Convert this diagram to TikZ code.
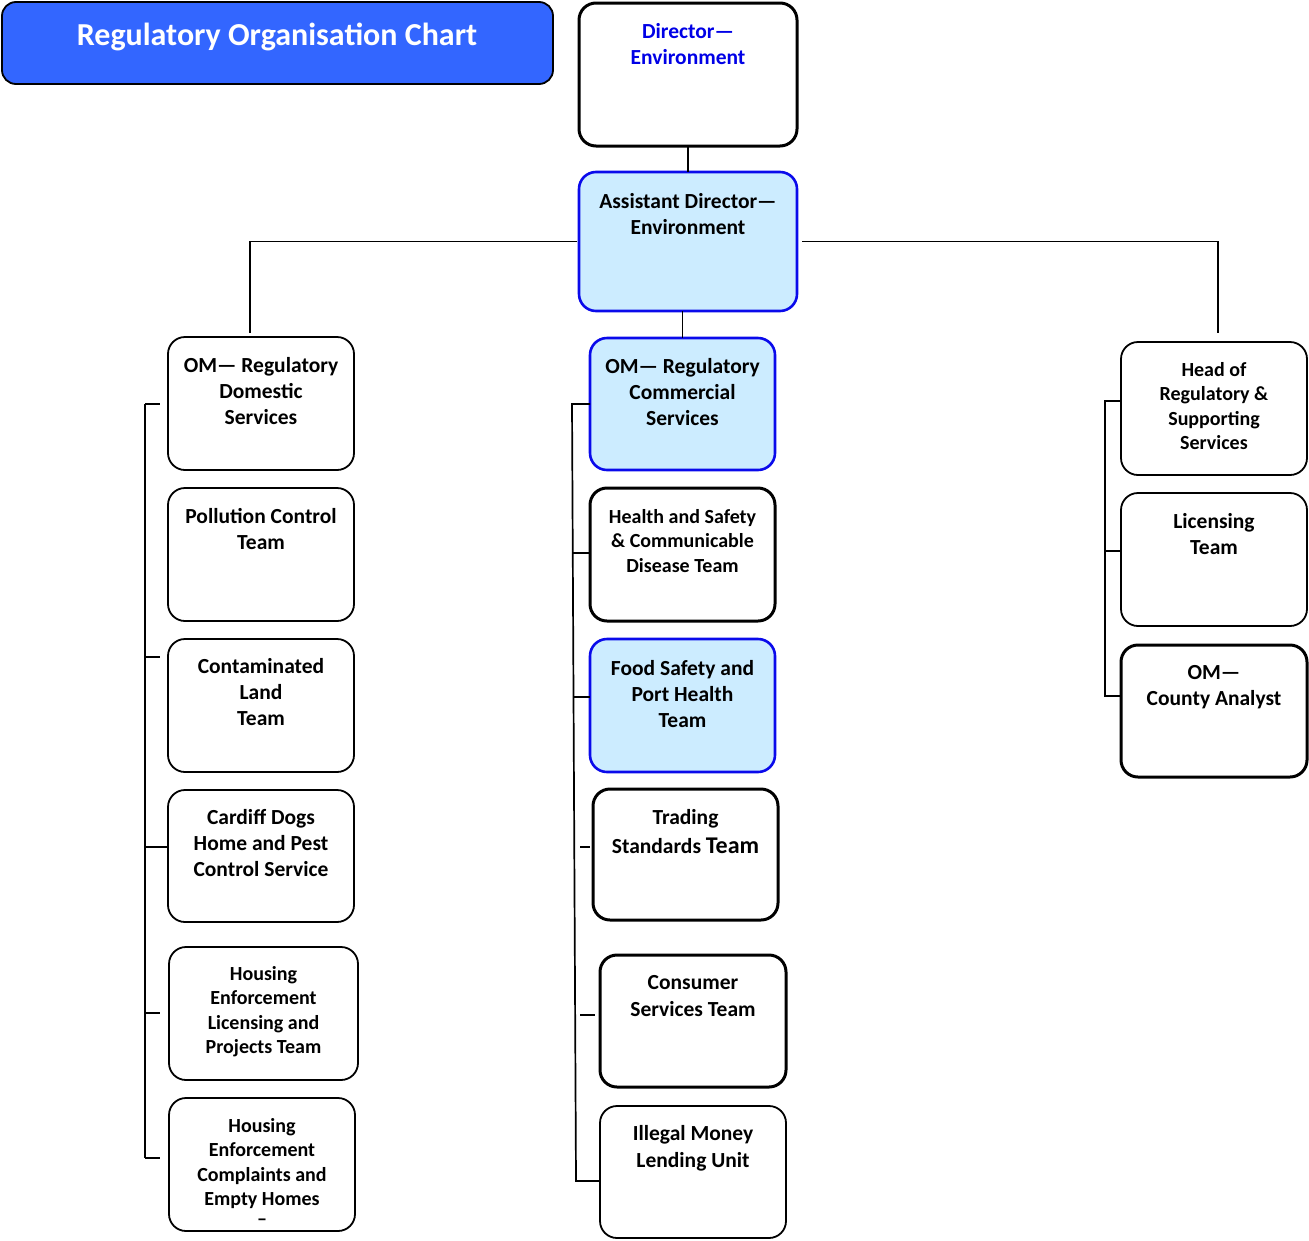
\documentclass[tikz,border=0pt]{standalone}
\usepackage{fontspec}
\setmainfont{Carlito}
\usetikzlibrary{positioning}
\definecolor{titleblue}{RGB}{51,102,255}
\definecolor{paleblue}{RGB}{204,236,255}
\definecolor{edgeblue}{RGB}{10,10,235}
\definecolor{darkblue}{RGB}{0,0,230}

\begin{document}
\begin{tikzpicture}[x=1pt,y=-1pt,
  box/.style={draw=black, line width=1.8pt, rounded corners=17pt, anchor=north west, inner sep=0pt, outer sep=0pt},
  thickbox/.style={box, line width=3pt},
  bluebox/.style={box, draw=edgeblue, fill=paleblue, line width=2.6pt},
  txt/.style={anchor=north, align=center, inner sep=0pt, font=\bfseries\fontsize{21.5}{26}\selectfont},
  smalltxt/.style={txt, font=\bfseries\fontsize{20}{24.5}\selectfont},
  link/.style={line width=1.7pt}]
	\useasboundingbox (0,0) rectangle (1309,1240);

	%Title
	\node[box, draw=black, fill=titleblue, line width=1.8pt, rounded corners=14pt, minimum width=551pt, minimum height=82pt] (title) at (2,2) {};
	\node[anchor=base, inner sep=0pt, text=white, font=\bfseries\fontsize{32}{36}\selectfont] (title-t) at (277,45) {Regulatory Organisation Chart};

	%Top of the chart
	\node[thickbox, minimum width=218pt, minimum height=143pt] (dir) at (579,3) {};
	\node[txt, text=darkblue, below=20pt of dir.north] (dir-t) {Director—\\Environment};
	\node[bluebox, minimum width=218pt, minimum height=139pt] (ad) at (579,172) {};
	\node[txt, below=21pt of ad.north] (ad-t) {Assistant Director—\\Environment};

	%Domestic column
	\node[box, minimum width=186pt, minimum height=133pt] (dom) at (168,337) {};
	\node[txt, below=20pt of dom.north] (dom-t) {OM— Regulatory\\Domestic\\Services};
	\node[box, minimum width=186pt, minimum height=133pt] (pol) at (168,488) {};
	\node[txt, below=20pt of pol.north] (pol-t) {Pollution Control\\Team};
	\node[box, minimum width=186pt, minimum height=133pt] (cont) at (168,639) {};
	\node[txt, below=19pt of cont.north] (cont-t) {Contaminated\\Land\\Team};
	\node[box, minimum width=186pt, minimum height=132pt] (dogs) at (168,790) {};
	\node[txt, below=19pt of dogs.north] (dogs-t) {Cardiff Dogs\\Home and Pest\\Control Service};
	\node[box, minimum width=189pt, minimum height=133pt] (hlic) at (169,947) {};
	\node[smalltxt, below=19pt of hlic.north] (hlic-t) {Housing\\Enforcement\\Licensing and\\Projects Team};
	\node[box, minimum width=186pt, minimum height=133pt] (hcom) at (169,1098) {};
	\node[smalltxt, below=20pt of hcom.north] (hcom-t) {Housing\\Enforcement\\Complaints and\\Empty Homes\\[-5pt]–};

	%Commercial column
	\node[bluebox, minimum width=185pt, minimum height=132pt] (comm) at (590,338) {};
	\node[txt, below=20pt of comm.north] (comm-t) {OM— Regulatory\\Commercial\\Services};
	\node[thickbox, minimum width=185pt, minimum height=133pt] (hs) at (590,488) {};
	\node[smalltxt, below=21pt of hs.north] (hs-t) {Health and Safety\\\& Communicable\\Disease Team};
	\node[bluebox, minimum width=185pt, minimum height=133pt] (food) at (590,639) {};
	\node[txt, below=21pt of food.north] (food-t) {Food Safety and\\Port Health\\Team};
	\node[thickbox, minimum width=185pt, minimum height=131pt] (trad) at (593,789) {};
	\node[txt, below=20pt of trad.north] (trad-t) {Trading\\[3pt]Standards {\fontsize{24}{26}\selectfont Team}};
	\node[thickbox, minimum width=186pt, minimum height=132pt] (cons) at (600,955) {};
	\node[txt, below=20pt of cons.north] (cons-t) {Consumer\\[1pt]Services Team};
	\node[box, minimum width=186pt, minimum height=132pt] (money) at (600,1106) {};
	\node[txt, below=19pt of money.north] (money-t) {Illegal Money\\[1pt]Lending Unit};

	%Supporting column
	\node[box, minimum width=186pt, minimum height=133pt] (head) at (1121,342) {};
	\node[smalltxt, below=20pt of head.north] (head-t) {Head of\\Regulatory \&\\Supporting\\Services};
	\node[box, minimum width=186pt, minimum height=133pt] (lic) at (1121,493) {};
	\node[txt, below=20pt of lic.north] (lic-t) {Licensing\\Team};
	\node[thickbox, minimum width=186pt, minimum height=132pt] (county) at (1121,645) {};
	\node[txt, below=20pt of county.north] (county-t) {OM—\\County Analyst};

	%Links from the top
	\coordinate (dom-up) at (250,333);
	\coordinate (head-up) at (1218,333);
	\draw[link] (dir) -- (ad);
	\draw[link] (ad.south -| comm.north) -- (comm.north);
	\draw[link, shorten <=2pt] (ad.west) -| (dom-up);
	\draw[link, shorten <=5pt] (ad.east) -| (head-up);

	%Left bus
	\coordinate (lbus-a) at (145,404);
	\coordinate (lbus-b) at (145,1158);
	\coordinate (lbus-c) at (145,657);
	\coordinate (lbus-d) at (145,847);
	\coordinate (lbus-e) at (145,1013);
	\draw[link] (lbus-a) -- (lbus-b);
	\draw[link, shorten >=8pt] (lbus-a) -- (lbus-a -| dom.west);
	\draw[link, shorten >=8pt] (lbus-c) -- (lbus-c -| cont.west);
	\draw[link] (lbus-d) -- (lbus-d -| dogs.west);
	\draw[link, shorten >=9pt] (lbus-e) -- (lbus-e -| hlic.west);
	\draw[link, shorten >=9pt] (lbus-b) -- (lbus-b -| hcom.west);

	%Middle bus
	\coordinate (mbus-a) at (572,404);
	\coordinate (mbus-b) at (576,1181);
	\coordinate (mbus-c) at (572.7,553);
	\coordinate (mbus-d) at (573.5,697);
	\coordinate (mbus-e) at (580,847);
	\coordinate (mbus-f) at (580,1015);
	\draw[link] (mbus-a -| comm.west) -- (mbus-a) -- (mbus-b) -- (mbus-b -| money.west);
	\draw[link] (mbus-c) -- (mbus-c -| hs.west);
	\draw[link] (mbus-d) -- (mbus-d -| food.west);
	\draw[link, shorten >=3pt] (mbus-e) -- (mbus-e -| trad.west);
	\draw[link, shorten >=5pt] (mbus-f) -- (mbus-f -| cons.west);

	%Right bus
	\coordinate (rbus-a) at (1105,401);
	\coordinate (rbus-b) at (1105,696);
	\coordinate (rbus-c) at (1105,551);
	\draw[link] (rbus-a -| head.west) -- (rbus-a) -- (rbus-b) -- (rbus-b -| county.west);
	\draw[link] (rbus-c) -- (rbus-c -| lic.west);
\end{tikzpicture}
\end{document}
